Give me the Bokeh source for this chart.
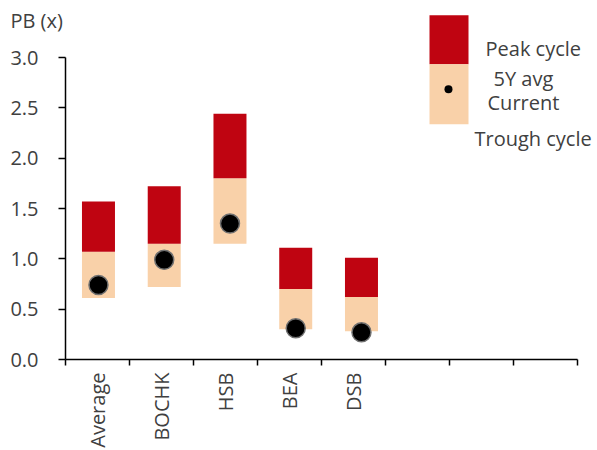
import math
from bokeh.plotting import figure
from bokeh.models import Range1d, FixedTicker, Label, LinearAxis
from bokeh.embed import file_html
from bokeh.resources import INLINE
from bokeh.core.properties import value

# ---- data ----
categories = ["Average", "BOCHK", "HSB", "BEA", "DSB", "", "", ""]
trough = [0.61, 0.72, 1.15, 0.30, 0.28]
avg5y = [1.07, 1.15, 1.80, 0.70, 0.62]
peak = [1.57, 1.72, 2.44, 1.11, 1.01]
current = [0.74, 0.99, 1.35, 0.31, 0.27]
y_ticks = [0.0, 0.5, 1.0, 1.5, 2.0, 2.5, 3.0]

RED = "#BF0411"
PEACH = "#F9D1A9"
TXT = "#404040"
FONT = "Open Sans"
FS = "20px"

W, H = 597, 450
PXU = 302 / 3.0  # pixels per y unit
p = figure(width=W, height=H, output_backend="svg", toolbar_location=None,
           x_range=Range1d(-65 / 64, 532 / 64),
           y_range=Range1d(-(H - 359) / PXU, 359 / PXU),
           min_border_left=0, min_border_right=0, min_border_top=0,
           min_border_bottom=0, x_axis_type=None, y_axis_type=None)
p.outline_line_color = None
p.grid.visible = False
p.background_fill_color = "white"
p.border_fill_color = "white"

# bars are on a slightly wider category spacing than the axis
p.extra_x_ranges = {"bars": Range1d(-65.1 / 65.75, 531.9 / 65.75)}
n = len(trough)
xs = [i + 0.5 for i in range(n)]
bw = 33 / 65.75
p.vbar(x=xs, width=bw, bottom=trough, top=avg5y, fill_color=PEACH,
       line_color=None, x_range_name="bars")
p.vbar(x=xs, width=bw, bottom=avg5y, top=peak, fill_color=RED,
       line_color=None, x_range_name="bars")
p.scatter(x=xs, y=current, size=19, fill_color="black", line_color="#707070",
          line_width=1.5, x_range_name="bars")

# axes
xaxis = LinearAxis(bounds=(0, len(categories)), fixed_location=0)
xaxis.ticker = FixedTicker(ticks=[i + 0.5 for i in range(len(categories))],
                           minor_ticks=list(range(len(categories) + 1)))
xaxis.major_label_overrides = {i + 0.5: c for i, c in enumerate(categories)}
xaxis.major_tick_out = 0
xaxis.major_tick_in = 0
xaxis.minor_tick_out = 6
xaxis.minor_tick_in = 0
xaxis.minor_tick_line_color = "black"
xaxis.minor_tick_line_width = 1.5
xaxis.axis_line_color = "black"
xaxis.axis_line_width = 1.5
xaxis.major_label_orientation = math.pi / 2
xaxis.major_label_standoff = 7
xaxis.major_label_text_font = FONT
xaxis.major_label_text_font_size = FS
xaxis.major_label_text_color = TXT
p.add_layout(xaxis, "below")

yaxis = LinearAxis(bounds=(0, 3), fixed_location=0)
yaxis.ticker = FixedTicker(ticks=y_ticks, minor_ticks=[])
yaxis.major_label_overrides = {t: f"{t:.1f}" for t in y_ticks}
yaxis.major_tick_out = 7
yaxis.major_tick_in = 0
yaxis.major_tick_line_width = 1.5
yaxis.axis_line_width = 1.5
yaxis.major_label_standoff = 20
yaxis.major_label_text_font = FONT
yaxis.major_label_text_font_size = FS
yaxis.major_label_text_color = TXT
p.add_layout(yaxis, "left")

p.add_layout(Label(x=-0.86, y=3.37, text="PB (x)",
                   text_font=FONT, text_font_size=FS, text_color=TXT,
                   text_baseline="middle"))

# legend drawn by hand
p.quad(left=[5.6875], right=[6.297], bottom=[2.932], top=[3.42],
       fill_color=RED, line_color=None)
p.quad(left=[5.6875], right=[6.297], bottom=[2.336], top=[2.932],
       fill_color=PEACH, line_color=None)
p.scatter(x=[5.984], y=[2.684], size=8, fill_color="black", line_color=None)
leg_txt = ["Peak cycle", "5Y avg", "Current", "Trough cycle"]
p.text(x=[6.5625, 6.6875, 6.594, 6.39], y=[3.091, 2.793, 2.555, 2.197],
       text=leg_txt, text_font=value(FONT), text_font_size=FS,
       text_color=TXT, text_baseline="middle", text_align="left")

open("out.html", "w").write(file_html(p, INLINE))
